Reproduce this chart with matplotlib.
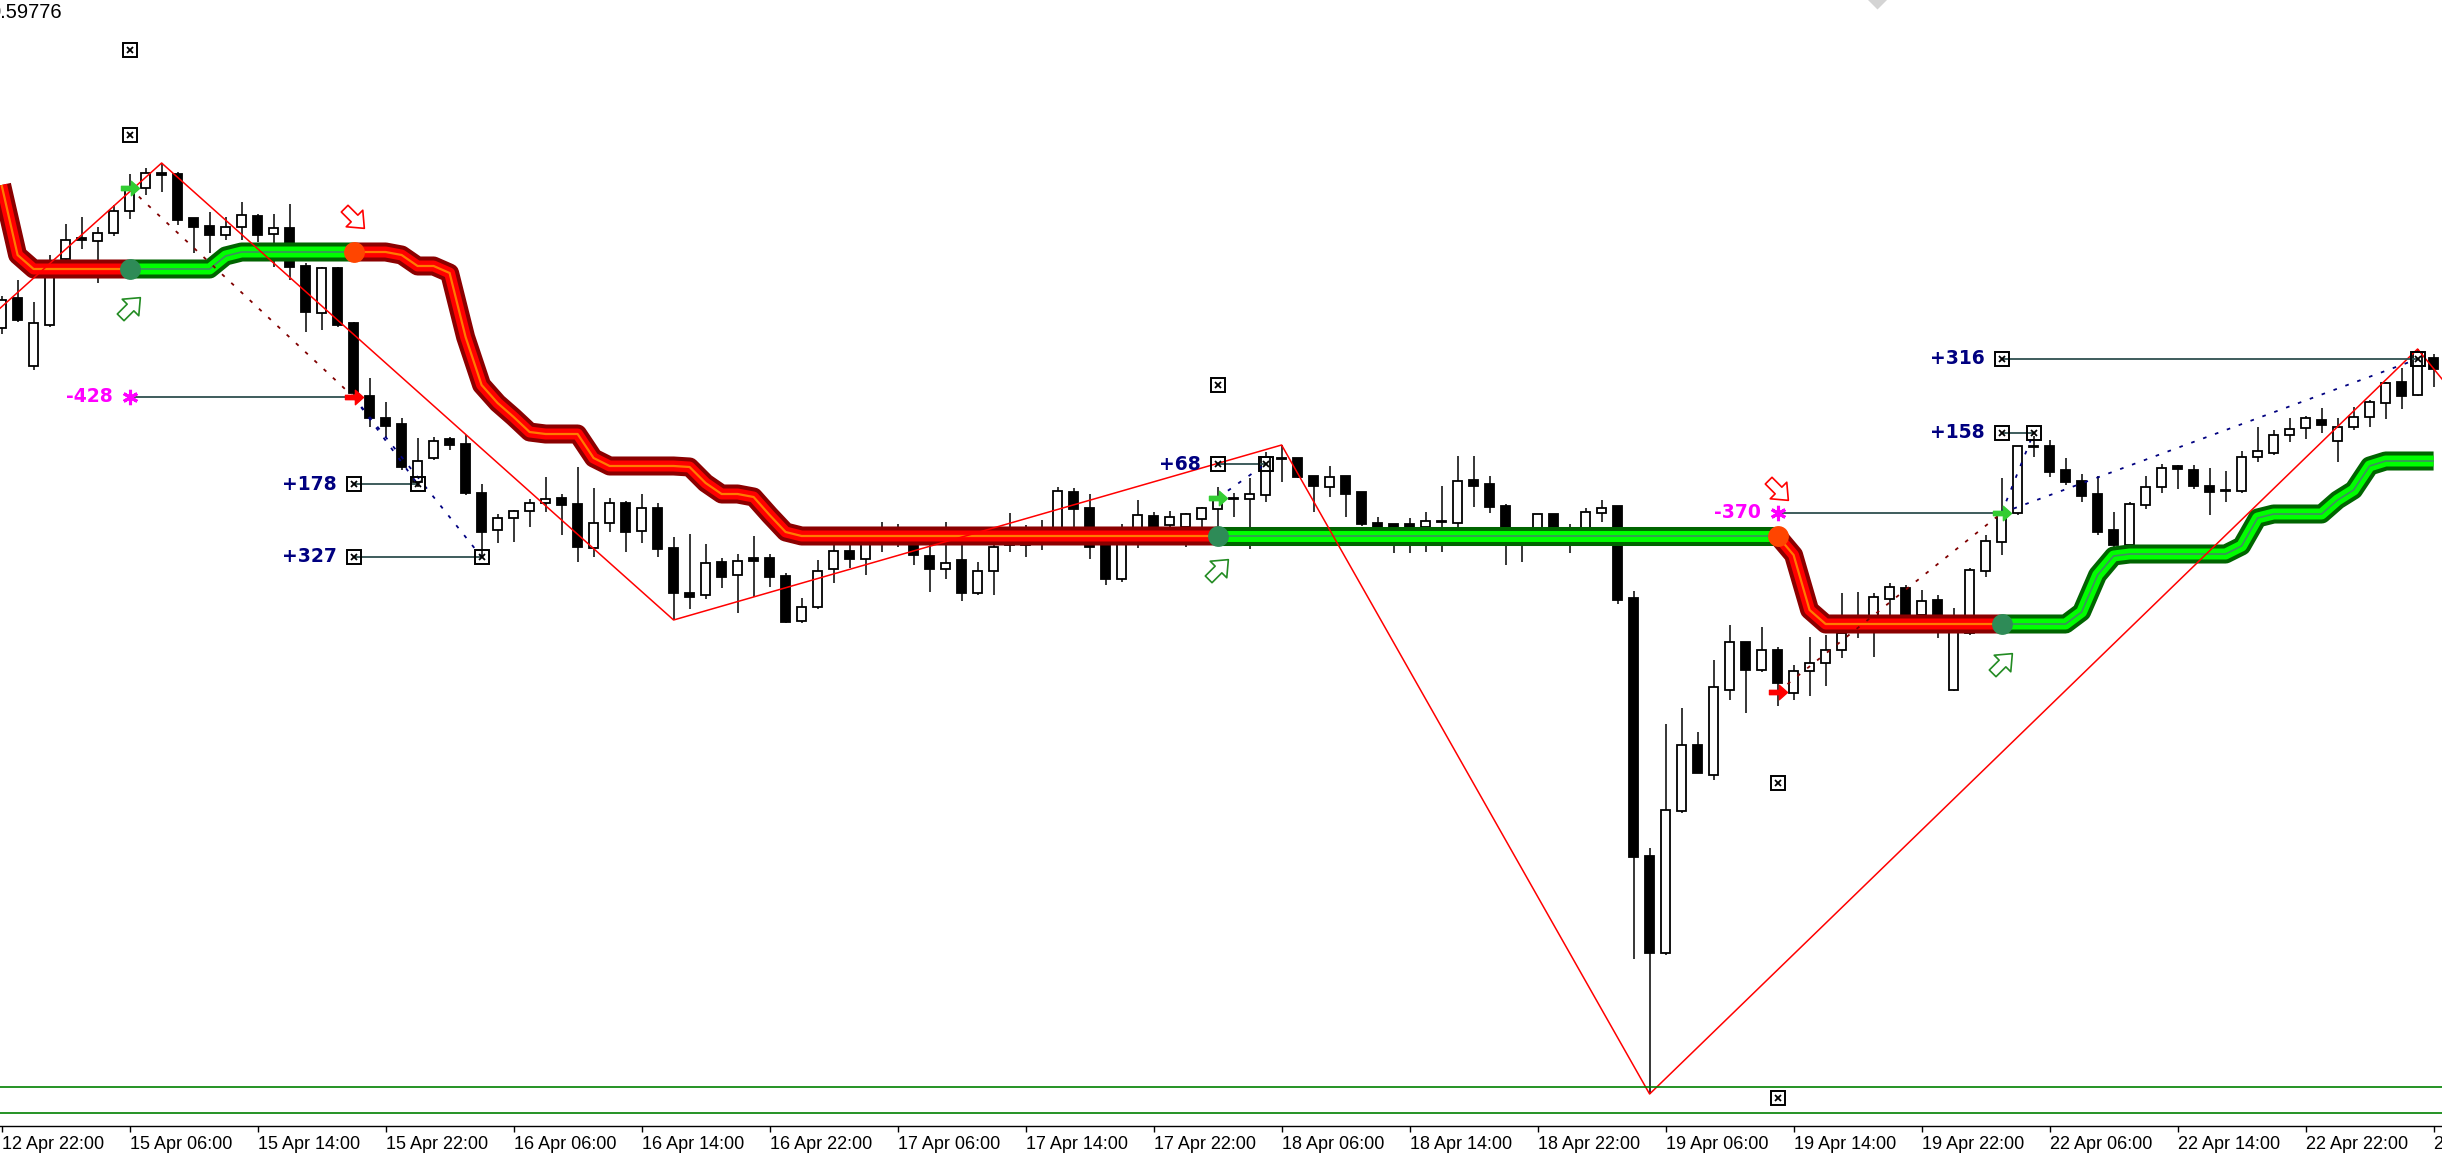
import numpy as np
import matplotlib
matplotlib.use('Agg')
import matplotlib.pyplot as plt
from matplotlib.path import Path

# H1 bars, bar 0 = 12 Apr 22:00 (weekend gaps are skipped like in the terminal)
opens = [1.59344, 1.59404, 1.59268, 1.59350, 1.59482, 1.59524, 1.59518, 1.59534, 1.59578, 1.59624,
         1.59654, 1.59652, 1.59564, 1.59548, 1.59530, 1.59546, 1.59568, 1.59532, 1.59544, 1.59468,
         1.59374, 1.59464, 1.59354, 1.59208, 1.59164, 1.59152, 1.59036, 1.59084, 1.59122, 1.59112,
         1.59014, 1.58940, 1.58964, 1.58978, 1.58994, 1.59004, 1.58992, 1.58904, 1.58954, 1.58994,
         1.58938, 1.58984, 1.58904, 1.58814, 1.58810, 1.58876, 1.58850, 1.58884, 1.58884, 1.58848,
         1.58758, 1.58786, 1.58862, 1.58898, 1.58882, 1.58920, 1.58930, 1.58930, 1.58888, 1.58862,
         1.58880, 1.58814, 1.58858, 1.58920, 1.58910, 1.58924, 1.58940, 1.59016, 1.58984, 1.58920,
         1.58842, 1.58940, 1.58968, 1.58950, 1.58946, 1.58962, 1.58982, 1.59004, 1.59002, 1.59010,
         1.59084, 1.59084, 1.59048, 1.59026, 1.59048, 1.59016, 1.58954, 1.58952, 1.58952, 1.58946,
         1.58958, 1.58954, 1.59040, 1.59032, 1.58988, 1.58936, 1.58940, 1.58972, 1.58930, 1.58940,
         1.58974, 1.58988, 1.58804, 1.58288, 1.58094, 1.58378, 1.58510, 1.58450, 1.58620, 1.58716,
         1.58660, 1.58700, 1.58614, 1.58658, 1.58674, 1.58700, 1.58744, 1.58760, 1.58802, 1.58824,
         1.58770, 1.58800, 1.58620, 1.58734, 1.58858, 1.58916, 1.58974, 1.59108, 1.59108, 1.59060,
         1.59038, 1.59012, 1.58940, 1.58910, 1.58990, 1.59026, 1.59068, 1.59060, 1.59028, 1.59020,
         1.59018, 1.59086, 1.59094, 1.59130, 1.59144, 1.59160, 1.59118, 1.59146, 1.59166, 1.59194,
         1.59236, 1.59210, 1.59284]
highs = [1.59408, 1.59440, 1.59396, 1.59490, 1.59552, 1.59566, 1.59546, 1.59590, 1.59652, 1.59664,
         1.59674, 1.59656, 1.59564, 1.59576, 1.59566, 1.59596, 1.59572, 1.59572, 1.59592, 1.59474,
         1.59466, 1.59466, 1.59356, 1.59244, 1.59196, 1.59164, 1.59124, 1.59126, 1.59126, 1.59130,
         1.59032, 1.58972, 1.58980, 1.59002, 1.59046, 1.59012, 1.59066, 1.59024, 1.59004, 1.58998,
         1.59012, 1.58994, 1.58926, 1.58932, 1.58912, 1.58884, 1.58892, 1.58928, 1.58892, 1.58854,
         1.58804, 1.58880, 1.58910, 1.58910, 1.58918, 1.58956, 1.58952, 1.58940, 1.58920, 1.58956,
         1.58926, 1.58876, 1.58930, 1.58974, 1.58950, 1.58960, 1.59026, 1.59024, 1.59012, 1.58930,
         1.58952, 1.59000, 1.58976, 1.58978, 1.58974, 1.58986, 1.59026, 1.59014, 1.59044, 1.59096,
         1.59110, 1.59084, 1.59048, 1.59068, 1.59048, 1.59016, 1.58966, 1.58952, 1.58964, 1.58976,
         1.59028, 1.59088, 1.59088, 1.59048, 1.58992, 1.58944, 1.58972, 1.58972, 1.58952, 1.58984,
         1.59000, 1.58988, 1.58818, 1.58304, 1.58552, 1.58584, 1.58536, 1.58680, 1.58750, 1.58716,
         1.58746, 1.58706, 1.58670, 1.58726, 1.58730, 1.58814, 1.58816, 1.58814, 1.58834, 1.58830,
         1.58820, 1.58810, 1.58784, 1.58864, 1.58930, 1.59044, 1.59108, 1.59128, 1.59120, 1.59084,
         1.59052, 1.59048, 1.58976, 1.58996, 1.59048, 1.59072, 1.59070, 1.59070, 1.59064, 1.59058,
         1.59098, 1.59146, 1.59140, 1.59164, 1.59168, 1.59184, 1.59164, 1.59186, 1.59200, 1.59236,
         1.59264, 1.59302, 1.59292]
lows = [1.59332, 1.59356, 1.59260, 1.59346, 1.59476, 1.59502, 1.59434, 1.59528, 1.59562, 1.59610,
        1.59616, 1.59550, 1.59494, 1.59494, 1.59520, 1.59520, 1.59516, 1.59466, 1.59440, 1.59336,
        1.59340, 1.59346, 1.59200, 1.59146, 1.59126, 1.59060, 1.59026, 1.59080, 1.59100, 1.59010,
        1.58884, 1.58914, 1.58916, 1.58946, 1.58976, 1.58930, 1.58876, 1.58886, 1.58936, 1.58896,
        1.58914, 1.58886, 1.58760, 1.58782, 1.58802, 1.58824, 1.58774, 1.58806, 1.58826, 1.58754,
        1.58754, 1.58782, 1.58834, 1.58864, 1.58850, 1.58896, 1.58906, 1.58870, 1.58816, 1.58842,
        1.58798, 1.58810, 1.58810, 1.58896, 1.58886, 1.58900, 1.58930, 1.58946, 1.58882, 1.58830,
        1.58836, 1.58904, 1.58936, 1.58940, 1.58906, 1.58940, 1.58940, 1.58966, 1.58902, 1.58996,
        1.59036, 1.59044, 1.58976, 1.59006, 1.58966, 1.58948, 1.58930, 1.58894, 1.58894, 1.58896,
        1.58896, 1.58946, 1.58986, 1.58974, 1.58870, 1.58876, 1.58936, 1.58936, 1.58894, 1.58930,
        1.58956, 1.58792, 1.58082, 1.57812, 1.58090, 1.58374, 1.58454, 1.58440, 1.58600, 1.58574,
        1.58656, 1.58588, 1.58600, 1.58608, 1.58628, 1.58684, 1.58724, 1.58686, 1.58770, 1.58760,
        1.58750, 1.58724, 1.58618, 1.58730, 1.58846, 1.58890, 1.58970, 1.59086, 1.59046, 1.59030,
        1.58996, 1.58930, 1.58904, 1.58904, 1.58982, 1.59014, 1.59022, 1.59022, 1.58970, 1.58996,
        1.59014, 1.59076, 1.59090, 1.59116, 1.59122, 1.59134, 1.59076, 1.59140, 1.59146, 1.59162,
        1.59182, 1.59208, 1.59226]
closes = [1.59400, 1.59360, 1.59354, 1.59476, 1.59520, 1.59520, 1.59534, 1.59578, 1.59620, 1.59654,
          1.59650, 1.59560, 1.59546, 1.59530, 1.59546, 1.59570, 1.59530, 1.59544, 1.59466, 1.59376,
          1.59464, 1.59350, 1.59214, 1.59164, 1.59148, 1.59066, 1.59078, 1.59118, 1.59110, 1.59014,
          1.58936, 1.58964, 1.58978, 1.58994, 1.59002, 1.58990, 1.58906, 1.58954, 1.58994, 1.58936,
          1.58984, 1.58902, 1.58814, 1.58806, 1.58874, 1.58846, 1.58878, 1.58878, 1.58846, 1.58756,
          1.58786, 1.58858, 1.58898, 1.58882, 1.58914, 1.58936, 1.58920, 1.58890, 1.58862, 1.58874,
          1.58814, 1.58858, 1.58906, 1.58910, 1.58920, 1.58932, 1.59018, 1.58982, 1.58906, 1.58842,
          1.58914, 1.58970, 1.58946, 1.58966, 1.58972, 1.58984, 1.59000, 1.59002, 1.59012, 1.59086,
          1.59082, 1.59046, 1.59028, 1.59046, 1.59012, 1.58952, 1.58946, 1.58940, 1.58940, 1.58958,
          1.58956, 1.59038, 1.59028, 1.58986, 1.58920, 1.58924, 1.58972, 1.58940, 1.58920, 1.58976,
          1.58984, 1.58800, 1.58286, 1.58094, 1.58380, 1.58510, 1.58454, 1.58626, 1.58716, 1.58660,
          1.58700, 1.58634, 1.58658, 1.58674, 1.58700, 1.58734, 1.58764, 1.58806, 1.58826, 1.58770,
          1.58798, 1.58770, 1.58750, 1.58860, 1.58918, 1.58970, 1.59108, 1.59106, 1.59056, 1.59036,
          1.59008, 1.58936, 1.58910, 1.58992, 1.59026, 1.59064, 1.59062, 1.59028, 1.59016, 1.59018,
          1.59086, 1.59098, 1.59130, 1.59142, 1.59164, 1.59150, 1.59146, 1.59166, 1.59196, 1.59234,
          1.59208, 1.59296, 1.59262]

tick_labels = ['12 Apr 22:00', '15 Apr 06:00', '15 Apr 14:00', '15 Apr 22:00', '16 Apr 06:00',
               '16 Apr 14:00', '16 Apr 22:00', '17 Apr 06:00', '17 Apr 14:00', '17 Apr 22:00',
               '18 Apr 06:00', '18 Apr 14:00', '18 Apr 22:00', '19 Apr 06:00', '19 Apr 14:00',
               '19 Apr 22:00', '22 Apr 06:00', '22 Apr 14:00', '22 Apr 22:00', '23 Apr 06:00']

# trailing stop band, one value per bar
trail = ([1.59630, 1.59490] + [1.59462] * 12 + [1.59488] + [1.59496] * 10
         + [1.59490, 1.59468, 1.59468, 1.59454, 1.59326, 1.59230, 1.59194, 1.59166, 1.59136]
         + [1.59132] * 3 + [1.59084] + [1.59068] * 5
         + [1.59066, 1.59034, 1.59012, 1.59012, 1.59006, 1.58970, 1.58936]
         + [1.58928] * 62 + [1.58890, 1.58780] + [1.58752] * 16
         + [1.58776, 1.58850, 1.58888] + [1.58892] * 7 + [1.58908, 1.58964]
         + [1.58972] * 4 + [1.59000, 1.59020, 1.59068] + [1.59078] * 4)
# (first bar, last bar, trend) for each stretch of the band
trend_runs = [(0, 8, 'down'), (8, 22, 'up'), (22, 76, 'down'),
              (76, 111, 'up'), (111, 125, 'down'), (125, 152, 'up')]

# zigzag swing points
zz_bars = [-3, 10, 42, 80, 103, 151, 154]
zz_prices = [1.59300, 1.59674, 1.58760, 1.59110, 1.57812, 1.59302, 1.59184]

# closed trades from the tester
trade_side = ['buy', 'sell', 'sell', 'buy', 'sell', 'buy', 'buy']
trade_open_bar = [8, 22, 22, 76, 111, 125, 125]
trade_open_price = [1.59624, 1.59206, 1.59206, 1.59004, 1.58616, 1.58974, 1.58974]
trade_close_bar = [22, 26, 30, 79, 125, 127, 151]
trade_close_price = [1.59206, 1.59032, 1.58886, 1.59072, 1.58974, 1.59134, 1.59282]
trade_points = [-428, 178, 327, 68, -370, 158, 316]

# take profit / stop marks
level_bars = [8, 8, 76, 111, 111]
level_prices = [1.59900, 1.59730, 1.59230, 1.58434, 1.57804]

# signal arrows
signal_bars = [8, 22, 76, 111, 125]
signal_prices = [1.59386, 1.59564, 1.58862, 1.59020, 1.58674]
signal_dir = ['up', 'down', 'up', 'down', 'up']

support_levels = [1.57826, 1.57774]

tick_font = ['Liberation Sans', 'DejaVu Sans']


def rotated(verts, deg):
    a = np.deg2rad(deg)
    rot = np.array([[np.cos(a), -np.sin(a)], [np.sin(a), np.cos(a)]])
    v = np.array(verts) @ rot.T
    return Path(np.vstack([v, v[:1]]), closed=True)


block_up = [(-0.17, -0.5), (0.17, -0.5), (0.17, 0.0), (0.42, 0.0), (0.0, 0.5), (-0.42, 0.0), (-0.17, 0.0)]
arrow_ne = rotated(block_up, -45)
arrow_se = rotated(block_up, -135)
arrow_right = Path([(-0.5, -0.12), (0.05, -0.12), (0.05, -0.4), (0.5, 0.0), (0.05, 0.4),
                    (0.05, 0.12), (-0.5, 0.12), (-0.5, -0.12)], closed=True)

fig = plt.figure(figsize=(24.42, 11.6), dpi=100)
fig.patch.set_facecolor('white')
ax = fig.add_axes([0, 34 / 1160, 1, 1126 / 1160])
ax.set_facecolor('white')

x = np.arange(len(opens))
o = np.array(opens)
c = np.array(closes)
up = c > o

# candles
ax.vlines(x, lows, highs, color='black', lw=1.1, zorder=2)
body_lo = np.minimum(o, c)
body_h = np.abs(c - o)
ax.bar(x[up], body_h[up], bottom=body_lo[up], width=0.56, facecolor='white',
       edgecolor='black', linewidth=1.3, zorder=3)
ax.bar(x[~up], body_h[~up], bottom=body_lo[~up], width=0.56, facecolor='black',
       edgecolor='black', linewidth=1.3, zorder=3)

# trailing band
for start, end, trend in trend_runs:
    xs = x[start:end + 1]
    ys = trail[start:end + 1]
    if trend == 'down':
        cols = ('#8b0000', '#ff0000', '#ff7a00')
        centre_w = 1.6
    else:
        cols = ('#006400', '#00ff00', '#3d8f5f')
        centre_w = 1.2
    for col, lw in zip(cols, (13.7, 7.9, centre_w)):
        ax.plot(xs, ys, color=col, lw=lw, solid_joinstyle='round', solid_capstyle='butt', zorder=4)

# flip dots
for start, end, trend in trend_runs[1:]:
    col = '#ff4500' if trend == 'down' else '#2e8b57'
    ax.plot(start, trail[start], 'o', color=col, ms=15, mec='none', zorder=7)

# zigzag
ax.plot(zz_bars, zz_prices, color='#ff0000', lw=1.1, zorder=5)

# support lines
for lvl in support_levels:
    ax.axhline(lvl, color='#008000', lw=1.2, zorder=5)

# trades
for i in range(len(trade_side)):
    win = trade_points[i] > 0
    ax.plot([trade_open_bar[i], trade_close_bar[i]], [trade_open_price[i], trade_close_price[i]],
            color='#000080' if win else '#800000', lw=1.3, ls=(0, (2, 5)), zorder=6)
    ax.plot([trade_open_bar[i], trade_close_bar[i]], [trade_close_price[i], trade_close_price[i]],
            color='#2f4f4f', lw=1.3, zorder=6)
    if win:
        for b in (trade_open_bar[i], trade_close_bar[i]):
            ax.plot(b, trade_close_price[i], 's', ms=10, mfc='none', mec='black', mew=1.4, zorder=8)
            ax.plot(b, trade_close_price[i], 'x', ms=4, color='black', mew=1.3, zorder=8)
        txt_col = '#000080'
    else:
        ax.plot(trade_open_bar[i], trade_close_price[i], marker=(6, 2, 0), ms=11,
                color='#ff00ff', mew=2.2, zorder=8)
        txt_col = '#ff00ff'
    ax.annotate('%+d' % trade_points[i], xy=(trade_open_bar[i], trade_close_price[i]),
                xytext=(-17, 0), textcoords='offset pixels', ha='right', va='center',
                color=txt_col, fontsize=13.5, fontweight='bold', family='DejaVu Sans', zorder=9)

# entry arrows
seen = set()
for i in range(len(trade_side)):
    key = (trade_open_bar[i], trade_open_price[i])
    if key in seen:
        continue
    seen.add(key)
    col = '#32cd32' if trade_side[i] == 'buy' else '#ff0000'
    ax.plot(key[0], key[1], marker=arrow_right, ms=13, color=col, mec=col, zorder=8)

# level boxes
for b, p in zip(level_bars, level_prices):
    ax.plot(b, p, 's', ms=10, mfc='white', mec='black', mew=1.4, zorder=8)
    ax.plot(b, p, 'x', ms=4, color='black', mew=1.3, zorder=8)

# hollow signal arrows
for b, p, d in zip(signal_bars, signal_prices, signal_dir):
    if d == 'up':
        ax.plot(b, p, marker=arrow_ne, ms=19, mfc='none', mec='#228b22', mew=1.2, zorder=8)
    else:
        ax.plot(b, p, marker=arrow_se, ms=19, mfc='none', mec='#ff0000', mew=1.2, zorder=8)

# faint object at the top edge
ax.plot(117.2, 1.60006, 'D', ms=12, color='#d4d4d4', mec='none', zorder=1)

ax.set_xlim(-0.1, 152.525)
ax.set_ylim(1.57748, 1.6)
ax.set_yticks([])
ax.set_xticks(np.arange(0, 153, 8))
ax.set_xticklabels(tick_labels, family=tick_font, fontsize=13)
for lbl in ax.get_xticklabels():
    lbl.set_horizontalalignment('left')
ax.tick_params(axis='x', direction='out', length=4.5, width=1.0, pad=3, colors='black')
for side in ('left', 'right', 'top'):
    ax.spines[side].set_visible(False)
ax.spines['bottom'].set_linewidth(1.0)

fig.text(62 / 2442, 1 - 13 / 1160, '0.59776', ha='right', va='center',
         family=tick_font, fontsize=14.5, color='black')

fig.savefig('out.png', dpi=100, facecolor='white')
